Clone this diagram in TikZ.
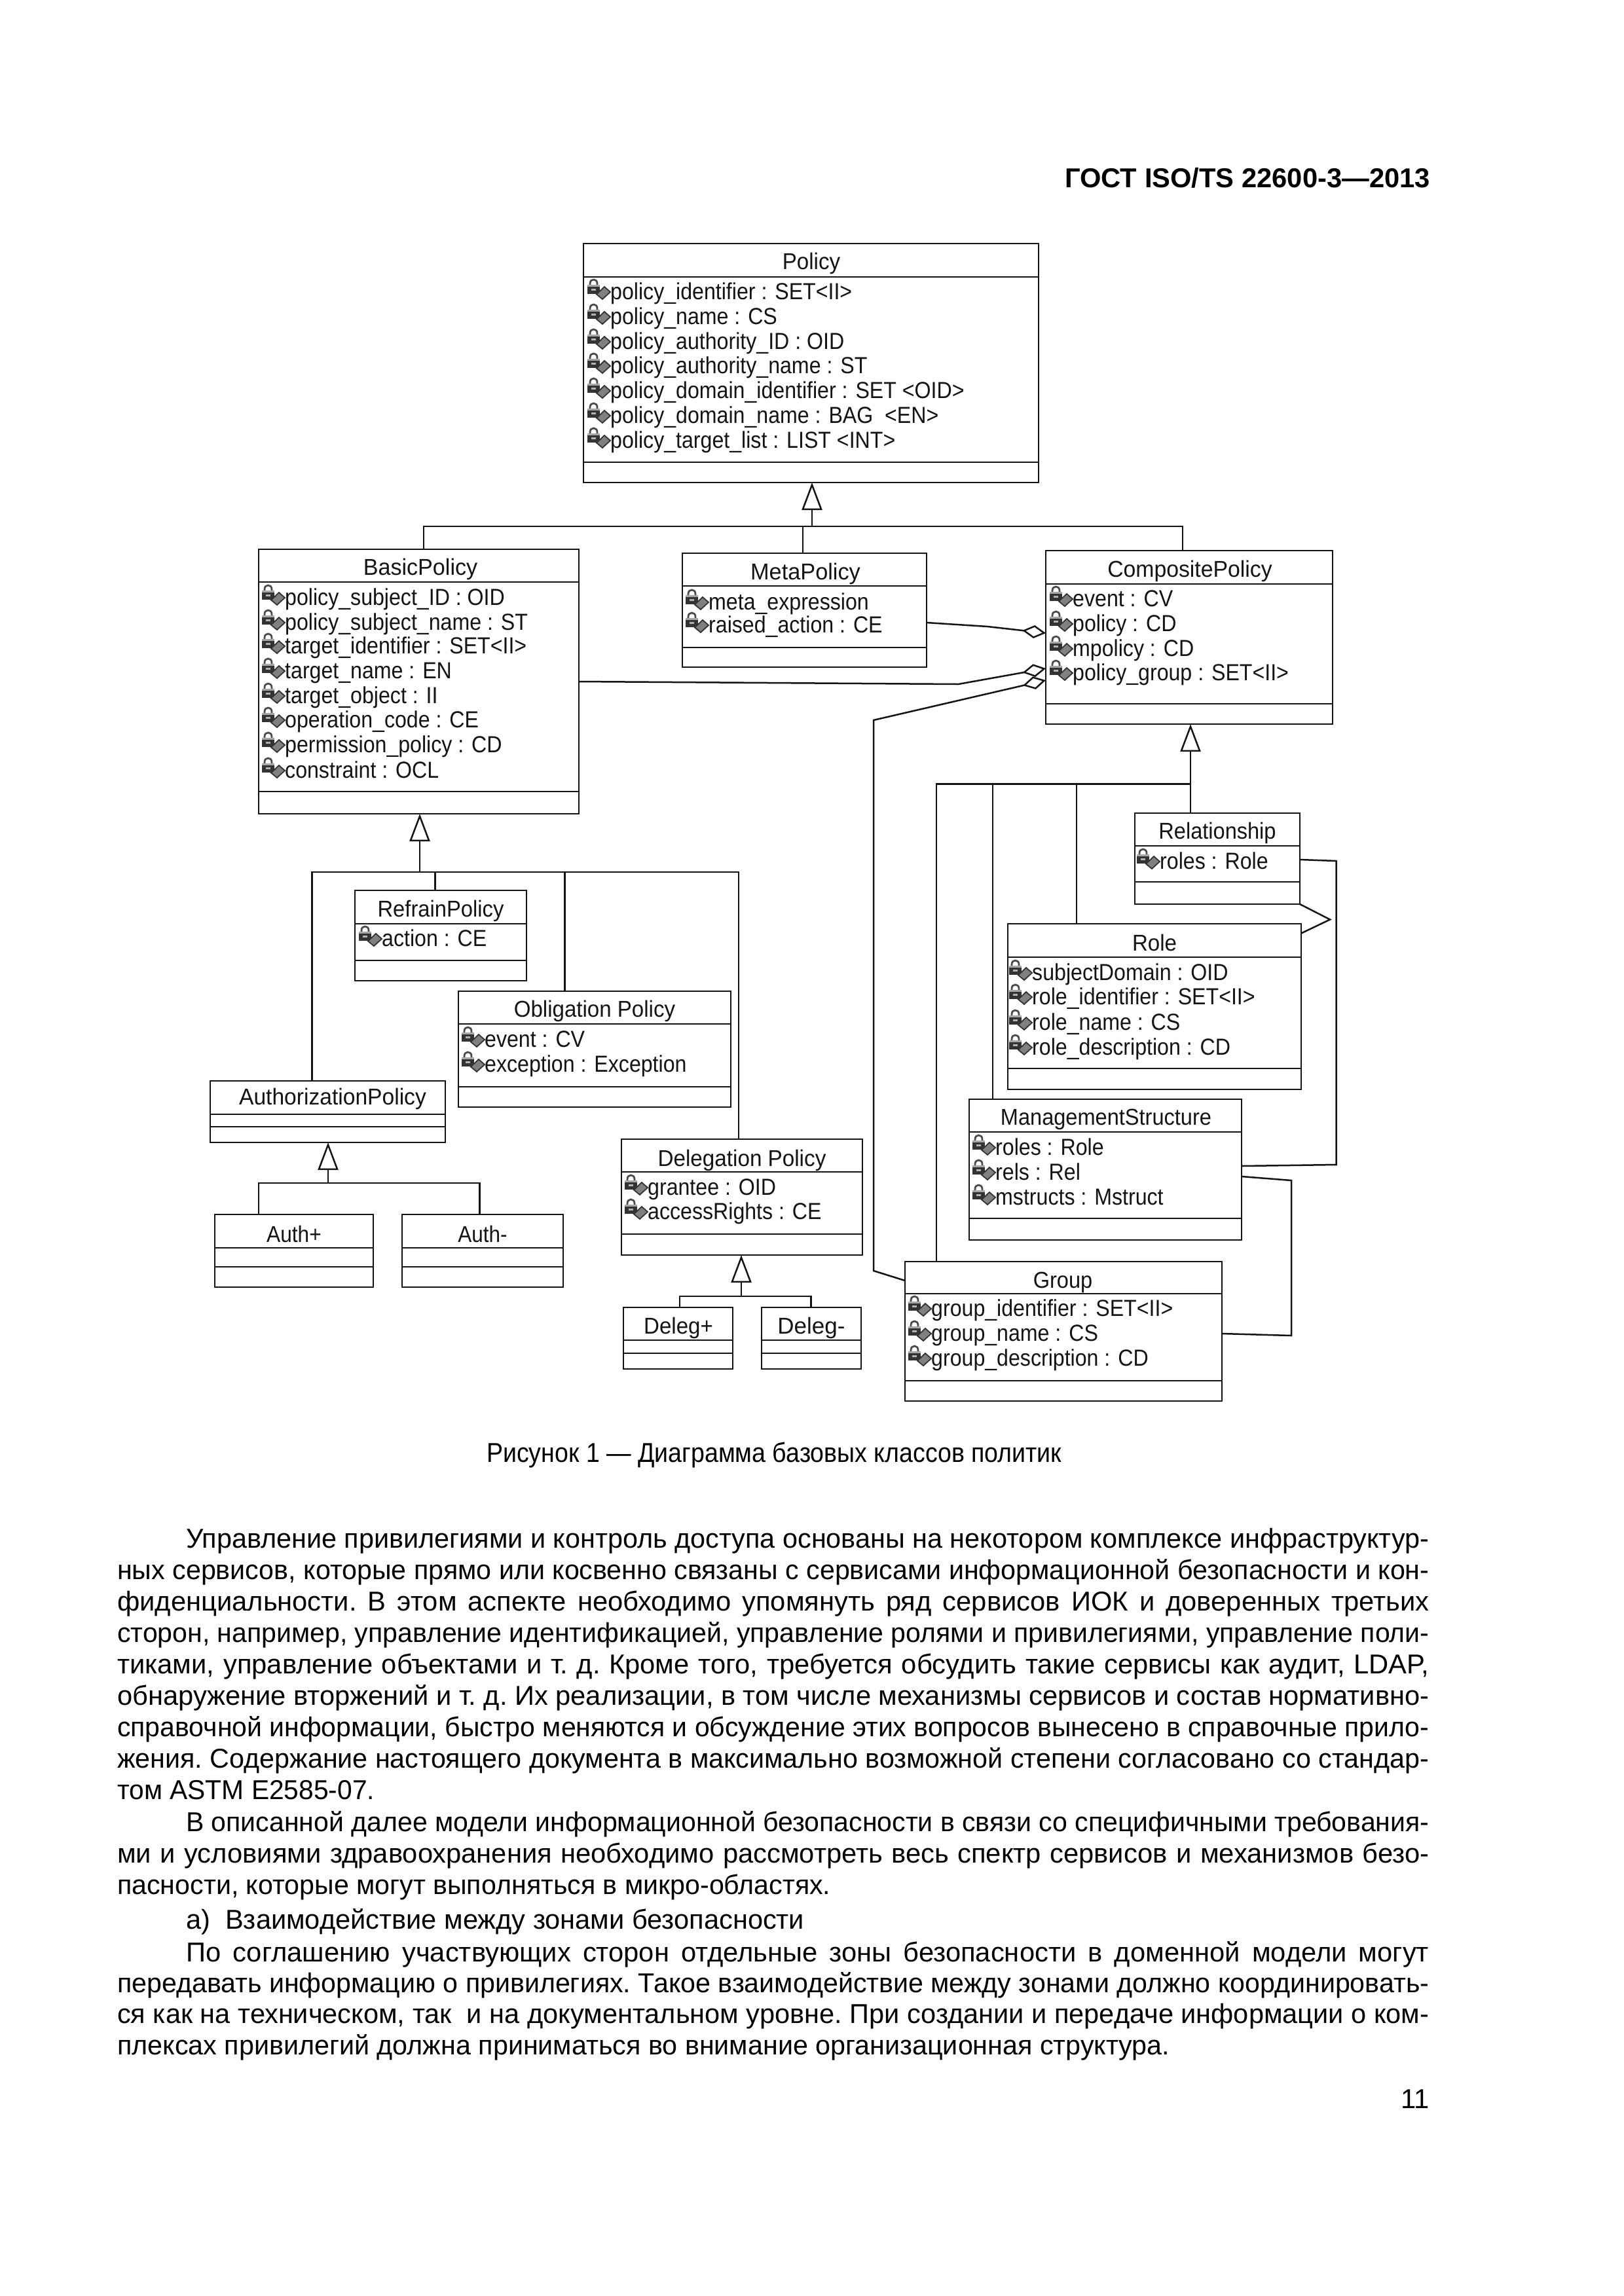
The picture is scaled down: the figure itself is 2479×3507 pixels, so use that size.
\documentclass[tikz,border=0pt]{standalone}
\usepackage{fontspec}
\usepackage{graphicx}
\setmainfont{Liberation Sans}
\newfontfamily\attrfont[FakeStretch=0.905]{Liberation Sans}
\usetikzlibrary{arrows.meta}
\definecolor{ink}{HTML}{141414}
\tikzset{
  classbox/.style={draw=ink,line width=2.5pt,inner sep=0pt,outer sep=0pt},
  rulelines/.style={draw=ink,line width=2.2pt},
  assoc/.style={draw=ink,line width=2.5pt,line join=miter},
  gen/.style={assoc,-{Triangle[open,length=42pt,width=31pt,line width=2.5pt]}},
  agg/.style={assoc,-{Diamond[open,length=36pt,width=20pt,line width=2.5pt]}},
  titletext/.style={anchor=base,inner sep=0pt,text=ink,font=\fontsize{35}{40}\selectfont},
  attrtext/.style={anchor=base west,inner sep=0pt,text=ink,font=\attrfont\fontsize{35.5}{40}\selectfont},
  pagetext/.style={anchor=base west,inner sep=0pt,text=black,font=\fontsize{41.7}{46}\selectfont\frenchspacing},
  pics/attricon/.style={code={
    \draw[draw=black!70,line width=2.8pt] (-31,-21) -- (-31,-24) .. controls (-31,-32) and (-20,-32) .. (-20,-24) -- (-20,-21);
    \fill[black!80] (-35,-22) rectangle (-16,-8);
    \fill[black!35] (-35,-22) rectangle (-16,-19);
    \fill[black!30] (-29,-16) rectangle (-22,-13);
    \draw[fill=black!50,draw=black!80,line width=1.8pt] (-21,-7.5) -- (-9,-19) -- (0,-11) -- (-12,0) -- cycle;
  }}
}
\newsavebox\linebox
\newcommand\fitline[2]{\sbox\linebox{#2}\ifdim\wd\linebox<#1pt\makebox[#1pt][s]{#2}\else\resizebox{#1pt}{\height}{\usebox\linebox}\fi}
\newcommand\umlbox[5]{\node[classbox,minimum width={#4-#2},minimum height={#5-#3}] (#1) at ({(#2+#4)/2},{(#3+#5)/2}) {};}
\newcommand\umlrule[2]{\draw[rulelines] (#1.west |- 0,#2) -- (#1.east |- 0,#2);}
\newcommand\umltitle[5][0.945]{\node[titletext] (#2) at (#3,#4) {\scalebox{#1}[1]{#5}};}
\newcommand\umlattr[4]{\pic at (#2,#3) {attricon};\node[attrtext] (#1) at (#2,#3) {#4};}
\newcommand\pageline[5]{\node[pagetext] (#1) at (#2,#3) {\fitline{#4}{#5}};}
\begin{document}
\begin{tikzpicture}[x=1pt,y=-1pt]
\useasboundingbox (0,0) rectangle (2479,3507);
\fill[white] (0,0) rectangle (2479,3507);

% page header
\node[anchor=base east,inner sep=0pt,text=black,font=\fontsize{41.7}{46}\selectfont\bfseries] (header) at (2184,286) {ГОСТ ISO/TS 22600-3—2013};

% Policy
\umlbox{policy}{891}{372}{1586}{737}
\umlrule{policy}{423}\umlrule{policy}{706}
\umltitle{policyT}{1239}{411}{Policy}
\umlattr{pa1}{932}{457}{policy\_identifier : SET<II>}
\umlattr{pa2}{932}{495}{policy\_name : CS}
\umlattr{pa3}{932}{533}{policy\_authority\_ID : OID}
\umlattr{pa4}{932}{570}{policy\_authority\_name : ST}
\umlattr{pa5}{932}{608}{policy\_domain\_identifier : SET <OID>}
\umlattr{pa6}{932}{646}{policy\_domain\_name : BAG \ <EN>}
\umlattr{pa7}{932}{684}{policy\_target\_list : LIST <INT>}

% BasicPolicy
\umlbox{basic}{395}{839}{884}{1243}
\umlrule{basic}{889}\umlrule{basic}{1209}
\umltitle[0.975]{basicT}{642}{878}{BasicPolicy}
\umlattr{ba1}{435}{924}{policy\_subject\_ID : OID}
\umlattr{ba2}{435}{962}{policy\_subject\_name : ST}
\umlattr{ba3}{435}{998}{target\_identifier : SET<II>}
\umlattr{ba4}{435}{1036}{target\_name : EN}
\umlattr{ba5}{435}{1074}{target\_object : II}
\umlattr{ba6}{435}{1111}{operation\_code : CE}
\umlattr{ba7}{435}{1149}{permission\_policy : CD}
\umlattr{ba8}{435}{1188}{constraint : OCL}

% MetaPolicy
\umlbox{meta}{1042}{845}{1415}{1019}
\umlrule{meta}{895}\umlrule{meta}{989}
\umltitle[0.98]{metaT}{1230}{885}{MetaPolicy}
\umlattr{ma1}{1082}{931}{meta\_expression}
\umlattr{ma2}{1082}{966}{raised\_action : CE}

% CompositePolicy
\umlbox{composite}{1597}{841}{2035}{1106}
\umlrule{composite}{892}\umlrule{composite}{1075}
\umltitle[0.965]{compositeT}{1817}{881}{CompositePolicy}
\umlattr{ca1}{1638}{926}{event : CV}
\umlattr{ca2}{1638}{964}{policy : CD}
\umlattr{ca3}{1638}{1002}{mpolicy : CD}
\umlattr{ca4}{1638}{1039}{policy\_group : SET<II>}

% Relationship
\umlbox{relationship}{1733}{1242}{1985}{1381}
\umlrule{relationship}{1292}\umlrule{relationship}{1347}
\umltitle[0.93]{relationshipT}{1859}{1281}{Relationship}
\umlattr{ra1}{1771}{1327}{roles : Role}

% Role
\umlbox{role}{1539}{1411}{1987}{1664}
\umlrule{role}{1462}\umlrule{role}{1632}
\umltitle{roleT}{1763}{1452}{Role}
\umlattr{ro1}{1576}{1497}{subjectDomain : OID}
\umlattr{ro2}{1576}{1534}{role\_identifier : SET<II>}
\umlattr{ro3}{1576}{1573}{role\_name : CS}
\umlattr{ro4}{1576}{1611}{role\_description : CD}

% ManagementStructure
\umlbox{mgmt}{1480}{1679}{1896}{1894}
\umlrule{mgmt}{1729}\umlrule{mgmt}{1861}
\umltitle[0.93]{mgmtT}{1689}{1718}{ManagementStructure}
\umlattr{mg1}{1520}{1764}{roles : Role}
\umlattr{mg2}{1520}{1802}{rels : Rel}
\umlattr{mg3}{1520}{1840}{mstructs : Mstruct}

% Group
\umlbox{group}{1382}{1927}{1866}{2140}
\umlrule{group}{1976}\umlrule{group}{2109}
\umltitle[0.93]{groupT}{1623}{1967}{Group}
\umlattr{gr1}{1422}{2010}{group\_identifier : SET<II>}
\umlattr{gr2}{1422}{2048}{group\_name : CS}
\umlattr{gr3}{1422}{2086}{group\_description : CD}

% RefrainPolicy
\umlbox{refrain}{542}{1360}{804}{1498}
\umlrule{refrain}{1411}\umlrule{refrain}{1467}
\umltitle[0.935]{refrainT}{673}{1400}{RefrainPolicy}
\umlattr{re1}{583}{1445}{action : CE}

% Obligation Policy
\umlbox{obligation}{700}{1514}{1116}{1691}
\umlrule{obligation}{1564}\umlrule{obligation}{1660}
\umltitle{obligationT}{908}{1553}{Obligation Policy}
\umlattr{ob1}{740}{1599}{event : CV}
\umlattr{ob2}{740}{1637}{exception : Exception}

% AuthorizationPolicy
\umlbox{authz}{321}{1651}{680}{1745}
\umlrule{authz}{1702}\umlrule{authz}{1721}
\umltitle[0.96]{authzT}{508}{1687}{AuthorizationPolicy}

% Delegation Policy
\umlbox{delegation}{949}{1740}{1317}{1917}
\umlrule{delegation}{1790}\umlrule{delegation}{1885}
\umltitle[0.95]{delegationT}{1133}{1781}{Delegation Policy}
\umlattr{de1}{989}{1825}{grantee : OID}
\umlattr{de2}{989}{1862}{accessRights : CE}

% Auth+ / Auth-
\umlbox{authp}{328}{1855}{570}{1966}
\umlrule{authp}{1906}\umlrule{authp}{1935}
\umltitle[0.905]{authpT}{449}{1897}{Auth+}
\umlbox{authm}{614}{1855}{860}{1966}
\umlrule{authm}{1906}\umlrule{authm}{1935}
\umltitle[0.9]{authmT}{737}{1897}{Auth-}

% Deleg+ / Deleg-
\umlbox{delegp}{952}{1997}{1119}{2091}
\umlrule{delegp}{2047}\umlrule{delegp}{2067}
\umltitle{delegpT}{1036}{2037}{Deleg+}
\umlbox{delegm}{1163}{1997}{1315}{2091}
\umlrule{delegm}{2047}\umlrule{delegm}{2067}
\umltitle[1]{delegmT}{1239}{2037}{Deleg-}

% junctions
\coordinate (jp)  at (1240,804);
\coordinate (jpb) at (647,804);
\coordinate (jpm) at (1226,804);
\coordinate (jpc) at (1806,804);
\coordinate (jb)  at (641,1332);
\coordinate (jba) at (476.5,1332);
\coordinate (jbr) at (664.5,1332);
\coordinate (jbo) at (862.5,1332);
\coordinate (jbd) at (1128,1332);
\coordinate (jc)  at (1818,1197.5);
\coordinate (jcg) at (1430,1197.5);
\coordinate (jcm) at (1516,1197.5);
\coordinate (jcr) at (1644,1197.5);
\coordinate (ja)  at (501,1807);
\coordinate (jap) at (395,1807);
\coordinate (jam) at (732.5,1807);
\coordinate (jd)  at (1132,1980);
\coordinate (jdp) at (1038,1980);
\coordinate (jdm) at (1238.5,1980);

% generalisation: Policy
\draw[gen] (jp) -- (jp |- policy.south);
\draw[assoc] (jpb |- basic.north) -- (jpb) -- (jpc) -- (jpc |- composite.north);
\draw[assoc] (jpm) -- (jpm |- meta.north);
% generalisation: BasicPolicy
\draw[gen] (jb) -- (jb |- basic.south);
\draw[assoc] (jba |- authz.north) -- (jba) -- (jbd) -- (jbd |- delegation.north);
\draw[assoc] (jbr) -- (jbr |- refrain.north);
\draw[assoc] (jbo) -- (jbo |- obligation.north);
% generalisation: CompositePolicy
\draw[gen] (jc |- relationship.north) -- (jc |- composite.south);
\draw[assoc] (jcg |- group.north) -- (jcg) -- (jc);
\draw[assoc] (jcm) -- (jcm |- mgmt.north);
\draw[assoc] (jcr) -- (jcr |- role.north);
% generalisation: AuthorizationPolicy
\draw[gen] (ja) -- (ja |- authz.south);
\draw[assoc] (jap |- authp.north) -- (jap) -- (jam) -- (jam |- authm.north);
% generalisation: Delegation Policy
\draw[gen] (jd) -- (jd |- delegation.south);
\draw[assoc] (jdp |- delegp.north) -- (jdp) -- (jdm) -- (jdm |- delegm.north);

% aggregations onto CompositePolicy
\draw[agg] (meta.east |- 0,951) -- (1508,957) -- (composite.west |- 0,967);
\draw[agg] (basic.east |- 0,1041) -- (1463.5,1045) -- (composite.west |- 0,1021);
\draw[agg] (group.west |- 0,1956) -- (1334,1941) -- (1334,1100) -- (composite.west |- 0,1039);

% associations among the composite's parts
\draw[assoc] (relationship.east |- 0,1313) -- (2040.5,1315) -- (2040.5,1779) -- (mgmt.east |- 0,1781);
\draw[assoc] (relationship.south east) -- (2031,1404.5) -- (role.east |- 0,1425.6);
\draw[assoc] (mgmt.east |- 0,1797) -- (1972,1803) -- (1972,2040) -- (group.east |- 0,2037);

% caption
\node[pagetext] (caption) at (743,2233) {\fitline{878}{Рисунок 1 — Диаграмма базовых классов политик}};

% body text
\pageline{l1}{284}{2364}{1898}{Управление привилегиями и контроль доступа основаны на некотором комплексе инфраструктур-}
\pageline{l2}{179}{2412}{2003}{ных сервисов, которые прямо или косвенно связаны с сервисами информационной безопасности и кон-}
\pageline{l3}{179}{2460}{2003}{фиденциальности. В этом аспекте необходимо упомянуть ряд сервисов ИОК и доверенных третьих}
\pageline{l4}{179}{2508}{2003}{сторон, например, управление идентификацией, управление ролями и привилегиями, управление поли-}
\pageline{l5}{179}{2556}{2003}{тиками, управление объектами и т. д. Кроме того, требуется обсудить такие сервисы как аудит, LDAP,}
\pageline{l6}{179}{2604}{2003}{обнаружение вторжений и т. д. Их реализации, в том числе механизмы сервисов и состав нормативно-}
\pageline{l7}{179}{2652}{2003}{справочной информации, быстро меняются и обсуждение этих вопросов вынесено в справочные прило-}
\pageline{l8}{179}{2700}{2003}{жения. Содержание настоящего документа в максимально возможной степени согласовано со стандар-}
\pageline{l9}{179}{2748}{393}{том ASTM E2585-07.}
\pageline{l10}{284}{2797}{1898}{В описанной далее модели информационной безопасности в связи со специфичными требования-}
\pageline{l11}{179}{2845}{2003}{ми и условиями здравоохранения необходимо рассмотреть весь спектр сервисов и механизмов безо-}
\pageline{l12}{179}{2893}{1089}{пасности, которые могут выполняться в микро-областях.}
\pageline{l13}{284}{2946}{944}{а) \ Взаимодействие между зонами безопасности}
\pageline{l14}{284}{2996}{1898}{По соглашению участвующих сторон отдельные зоны безопасности в доменной модели могут}
\pageline{l15}{179}{3043}{2003}{передавать информацию о привилегиях. Такое взаимодействие между зонами должно координировать-}
\pageline{l16}{179}{3090}{2003}{ся как на техническом, так \ и на документальном уровне. При создании и передаче информации о ком-}
\pageline{l17}{179}{3138}{1607}{плексах привилегий должна приниматься во внимание организационная структура.}
\node[anchor=base east,inner sep=0pt,text=black,font=\fontsize{41.7}{46}\selectfont] (pagenum) at (2183,3220) {11};
\end{tikzpicture}
\end{document}
